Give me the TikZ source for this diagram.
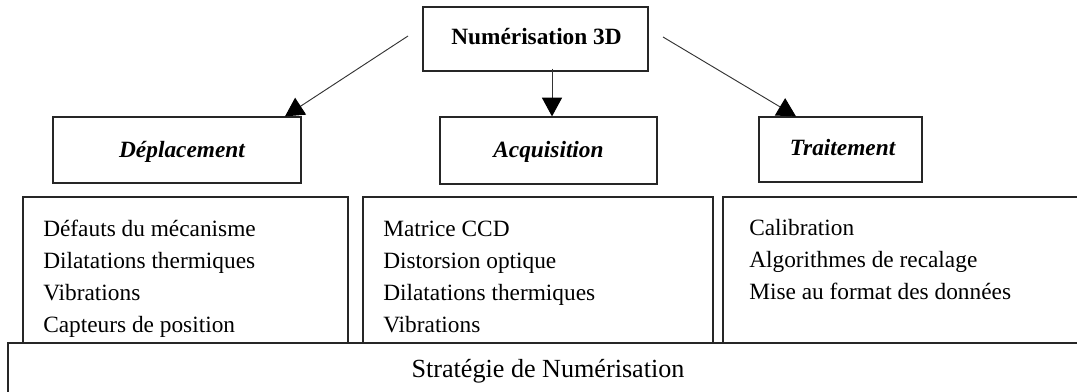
\documentclass[tikz,border=0pt]{standalone}
\usepackage{fontspec}
\setmainfont{Liberation Serif}
\usetikzlibrary{fit,calc,arrows.meta}
\begin{document}
\begin{tikzpicture}[x=0.75pt,y=-0.75pt,
  box/.style={draw=black!85, line width=0.9pt, inner sep=0pt, fill=white},
  txt/.style={font=\fontsize{17.5}{24}\selectfont},
  lst/.style={txt, anchor=base west, inner sep=0pt, align=left},
  head/.style={anchor=base, inner sep=0pt, font=\fontsize{17.5}{21}\selectfont\bfseries\itshape},
  toph/.style={anchor=base, inner sep=0pt, font=\fontsize{17.5}{21}\selectfont\bfseries},
  arr/.style={draw=black!80, line width=0.7pt, -{Triangle[length=14pt,width=15pt,color=black]}}
]
\useasboundingbox (0,0) rectangle (1077,392);
\clip (0,0) rectangle (1077,392);

% top and category boxes
\node[box, fit={(423,7)(648,71)}] (top) {};
\node[box, fit={(53,117)(301,183)}] (dep) {};
\node[box, fit={(440,117)(657,184)}] (acq) {};
\node[box, fit={(759,117)(922,182)}] (tra) {};
\node[toph] (ttop) at ($(top.center)+(1,6)$) {Numérisation 3D};
\node[head] (tdh) at ($(dep.center)+(5,7)$) {Déplacement};
\node[head] (tah) at ($(acq.center)+(0,7)$) {Acquisition};
\node[head] (tth) at ($(tra.center)+(2,6)$) {Traitement};

% list boxes
\node[box, fit={(23,197)(348,343)}] (ldep) {};
\node[box, fit={(363,197)(713,343)}] (lacq) {};
\node[box, fit={(723,197)(1095,343)}] (ltra) {};
\node[box, fit={(8,343)(1095,420)}] (bot) {};

\node[lst] (tdep) at (43,332) {Défauts du mécanisme\\Dilatations thermiques\\Vibrations\\Capteurs de position};
\node[lst] (tacq) at (383,332) {Matrice CCD\\Distorsion optique\\Dilatations thermiques\\Vibrations};
\node[lst] (ttra) at (749,299) {Calibration\\Algorithmes de recalage\\Mise au format des données};
\node[anchor=base, inner sep=0pt, font=\fontsize{19.6}{24}\selectfont] (strat) at (548,377) {Stratégie de Numérisation};

% connectors
\coordinate (sL) at (408,36);
\coordinate (sR) at (663,37);
\coordinate (xL) at (285,0);
\coordinate (xM) at (552,0);
\coordinate (xR) at (796,0);
\draw[arr] (sL) -- (dep.north -| xL);
\draw[arr] ($(top.south -| xM)+(0,-3)$) -- (acq.north -| xM);
\draw[arr] (sR) -- (tra.north -| xR);
\end{tikzpicture}
\end{document}
